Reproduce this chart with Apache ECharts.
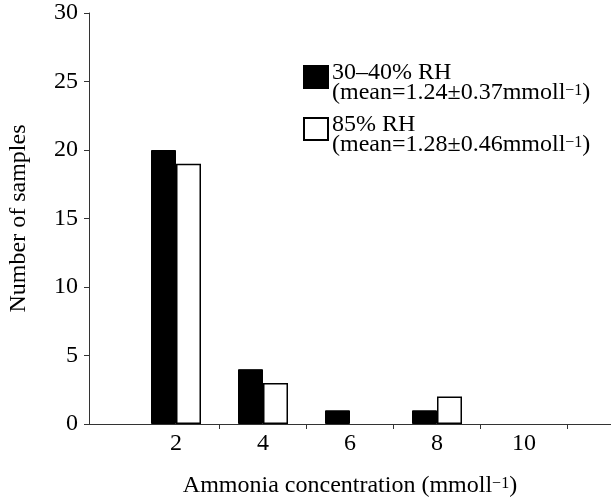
<!DOCTYPE html>
<html>
<head>
<meta charset="utf-8">
<script src="https://cdn.jsdelivr.net/npm/echarts@6/dist/echarts.min.js"></script>
<style>html,body{margin:0;padding:0;background:#fff}#c{width:611px;height:499px}</style>
</head>
<body>
<div id="c"></div>
<script>
const categories = [2, 4, 6, 8, 10];
const rhLow = [20, 4, 1, 1, 0];
const rhHigh = [19, 3, 0, 2, 0];
const xLabelValues = [2, 4, 6, 8, 10];
const xTickValues = [3, 5, 7, 9, 11];
const seriesNames = ['30–40% RH', '85% RH'];
const seriesMeans = ['(mean=1.24±0.37mmoll', '(mean=1.28±0.46mmoll'];

const FONT = "'Liberation Serif','Times New Roman',serif";
const chart = echarts.init(document.getElementById('c'), null, {renderer: 'canvas'});
const rich = {
  t: {fontFamily: FONT, fontSize: 24, color: '#000', lineHeight: 20},
  s: {fontFamily: FONT, fontSize: 16, color: '#000', lineHeight: 10, verticalAlign: 'top'}
};
function toBar(v) { return v === 0 ? '-' : v; }
chart.setOption({
  animation: false,
  grid: {left: 89, right: 0, top: 13, bottom: 75, outerBoundsMode: 'none', containLabel: false},
  legend: {
    orient: 'vertical', left: 303, top: 61, padding: 0,
    itemWidth: 24, itemHeight: 22, itemGap: 8,
    icon: 'rect',
    data: seriesNames,
    formatter: function (name) {
      const i = seriesNames.indexOf(name);
      return '{t|' + name + '}\n{t|' + seriesMeans[i] + '}{s|−1}{t|)}';
    },
    textStyle: {fontFamily: FONT, fontSize: 24, color: '#000', padding: [12, 0, 0, -1], rich: rich}
  },
  xAxis: {
    type: 'value', min: 0, max: 12,
    name: '{t|Ammonia concentration (mmoll}{s|−1}{t|)}',
    nameLocation: 'middle', nameGap: 52,
    nameTextStyle: {rich: rich},
    axisLine: {lineStyle: {color: '#333', width: 1}},
    axisTick: {show: true, customValues: xTickValues, length: 5, inside: false, lineStyle: {color: '#333'}},
    axisLabel: {customValues: xLabelValues, margin: 8, fontFamily: FONT, fontSize: 24, color: '#000'},
    splitLine: {show: false}
  },
  yAxis: {
    type: 'value', min: 0, max: 30, interval: 5,
    name: 'Number of samples', nameLocation: 'middle', nameGap: 58,
    nameTextStyle: {fontFamily: FONT, fontSize: 24, color: '#000'},
    axisLine: {show: true, lineStyle: {color: '#333', width: 1}},
    axisTick: {show: true, length: 5, lineStyle: {color: '#333'}},
    axisLabel: {margin: 11, fontFamily: FONT, fontSize: 24, color: '#000'},
    splitLine: {show: false}
  },
  series: [
    {
      name: seriesNames[0], type: 'bar', barWidth: 25, barGap: '0%',
      itemStyle: {color: '#000', borderColor: '#000', borderWidth: 1},
      data: categories.map((c, i) => [c, toBar(rhLow[i])])
    },
    {
      name: seriesNames[1], type: 'bar', barWidth: 25, barGap: '0%',
      itemStyle: {color: '#fff', borderColor: '#000', borderWidth: 1.5},
      data: categories.map((c, i) => [c, toBar(rhHigh[i])])
    }
  ]
});
</script>
</body>
</html>
